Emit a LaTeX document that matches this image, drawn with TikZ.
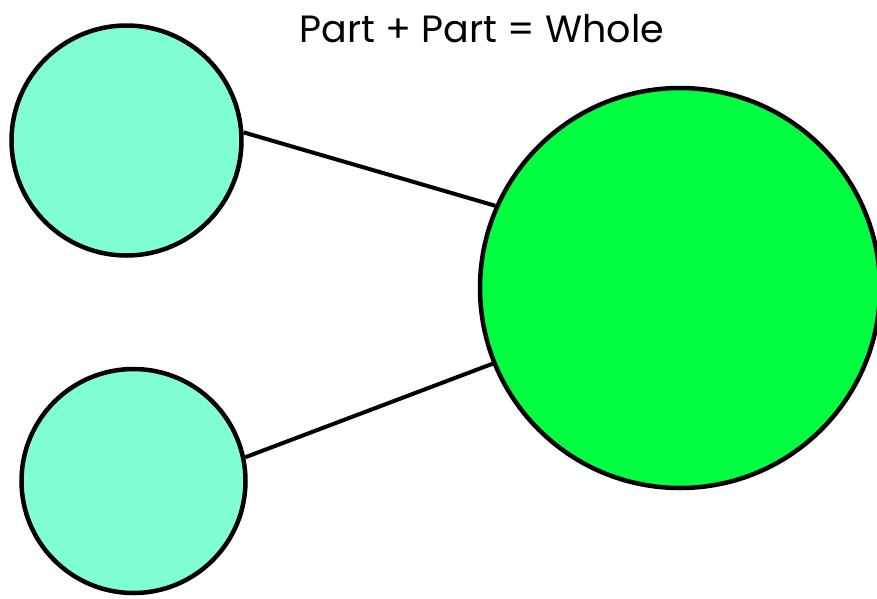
\documentclass[tikz,border=0pt]{standalone}
\usepackage{fontspec}
\setmainfont{Poppins}
\definecolor{partcol}{RGB}{128,255,212}
\definecolor{wholecol}{RGB}{0,255,64}

\begin{document}
\begin{tikzpicture}[x=1pt, y=-1pt,
		part/.style={circle, draw=black, line width=4.5pt, fill=partcol, inner sep=0pt},
		whole/.style={circle, draw=black, line width=4.5pt, fill=wholecol, inner sep=0pt},
		link/.style={line width=4pt, color=black}]
		%%%%% START %%%%%
		
		\useasboundingbox (0, 0) rectangle (877, 598);
		
		\node[font=\fontsize{38}{44}\selectfont, anchor=base, inner sep=0pt] (title) at (482, 42) {Part + Part = Whole};
		
		\node[part, minimum size=230pt] (parta) at (126.5, 140.5) {};
		\node[part, minimum size=224pt] (partb) at (133.5, 481) {};
		\node[whole, minimum size=400pt] (whole) at (680, 288) {};
		
		\draw[link] (parta.4.7) -- (whole.156);
		\draw[link] (partb.12.6) -- (whole.202.5);
		
		%%%%% END %%%%%
\end{tikzpicture}
\end{document}
